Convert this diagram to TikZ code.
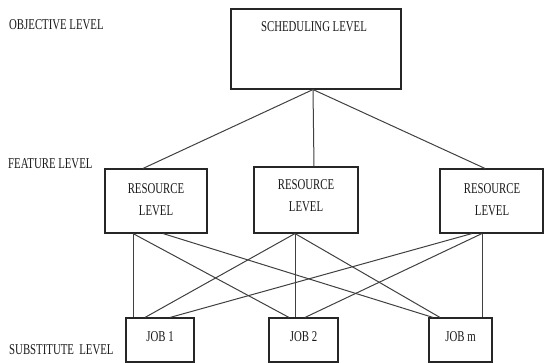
\documentclass[tikz,border=0pt]{standalone}
\usepackage{fontspec}
\setmainfont{Liberation Serif}
\newcommand\cnd[1]{\scalebox{0.72}[1]{#1}}
\tikzset{
  boxnode/.style={draw=black!85, line width=1.1pt, minimum width=#1, inner sep=0pt},
  txt/.style={font=\fontsize{15}{22}\selectfont, text=black!90, inner sep=0pt, align=center},
  conn/.style={draw=black!75, line width=1pt}
}
\begin{document}
\begin{tikzpicture}[x=1pt,y=-1pt]
\useasboundingbox (0,0) rectangle (544,363);
% boxes
\node[boxnode=170pt, minimum height=80pt] (sched) at (316,49) {};
\node[boxnode=102pt, minimum height=64pt] (lres) at (156,201) {};
\node[boxnode=104pt, minimum height=66pt] (mres) at (306,200) {};
\node[boxnode=103pt, minimum height=64pt] (rres) at (491.5,201) {};
\node[boxnode=68pt, minimum height=44pt] (job1) at (160,340) {};
\node[boxnode=69pt, minimum height=44pt] (job2) at (303.5,340) {};
\node[boxnode=63pt, minimum height=44pt] (jobm) at (460.5,340) {};
% texts
\node[txt] (schedtxt) at (314,27) {\cnd{SCHEDULING LEVEL}};
\node[txt] (lrestxt) at (156,200) {\cnd{RESOURCE}\\\cnd{LEVEL}};
\node[txt] (mrestxt) at (306,196) {\cnd{RESOURCE}\\\cnd{LEVEL}};
\node[txt] (rrestxt) at (492,200) {\cnd{RESOURCE}\\\cnd{LEVEL}};
\node[txt] (job1txt) at (160,337) {\cnd{JOB 1}};
\node[txt] (job2txt) at (303.5,337) {\cnd{JOB 2}};
\node[txt] (jobmtxt) at (460.5,337) {\cnd{JOB m}};
\node[txt, anchor=west] (objlbl) at (9,25) {\cnd{OBJECTIVE LEVEL}};
\node[txt, anchor=west] (featlbl) at (8,164) {\cnd{FEATURE LEVEL}};
\node[txt, anchor=west] (sublbl) at (9,350) {\cnd{SUBSTITUTE\ \ LEVEL}};
% connection points
\coordinate (root) at ([xshift=-3pt]sched.south);
\coordinate (a1) at ([xshift=-23pt]lres.south);
\coordinate (a2) at ([xshift=7pt]lres.south);
\coordinate (b) at ([xshift=-11pt]mres.south);
\coordinate (c1) at ([xshift=-19.5pt]rres.south);
\coordinate (c2) at ([xshift=-9.5pt]rres.south);
% upper connectors
\draw[conn] (root) -- ([xshift=-13pt]lres.north);
\draw[conn] (root) -- ([xshift=8pt]mres.north);
\draw[conn] (root) -- ([xshift=-6.5pt]rres.north);
% lower connectors
\draw[conn] (a1) -- ([xshift=-27pt]job1.north);
\draw[conn] (a1) -- ([xshift=-14.5pt]job2.north);
\draw[conn] (a2) -- ([xshift=-27.5pt]jobm.north);
\draw[conn] (b) -- ([xshift=-15pt]job1.north);
\draw[conn] (b) -- ([xshift=-8.5pt]job2.north);
\draw[conn] (b) -- ([xshift=-20.5pt]jobm.north);
\draw[conn] (c1) -- ([xshift=10pt]job1.north);
\draw[conn] (c2) -- ([xshift=1.5pt]job2.north);
\draw[conn] (c2) -- ([xshift=21.5pt]jobm.north);
\end{tikzpicture}
\end{document}
